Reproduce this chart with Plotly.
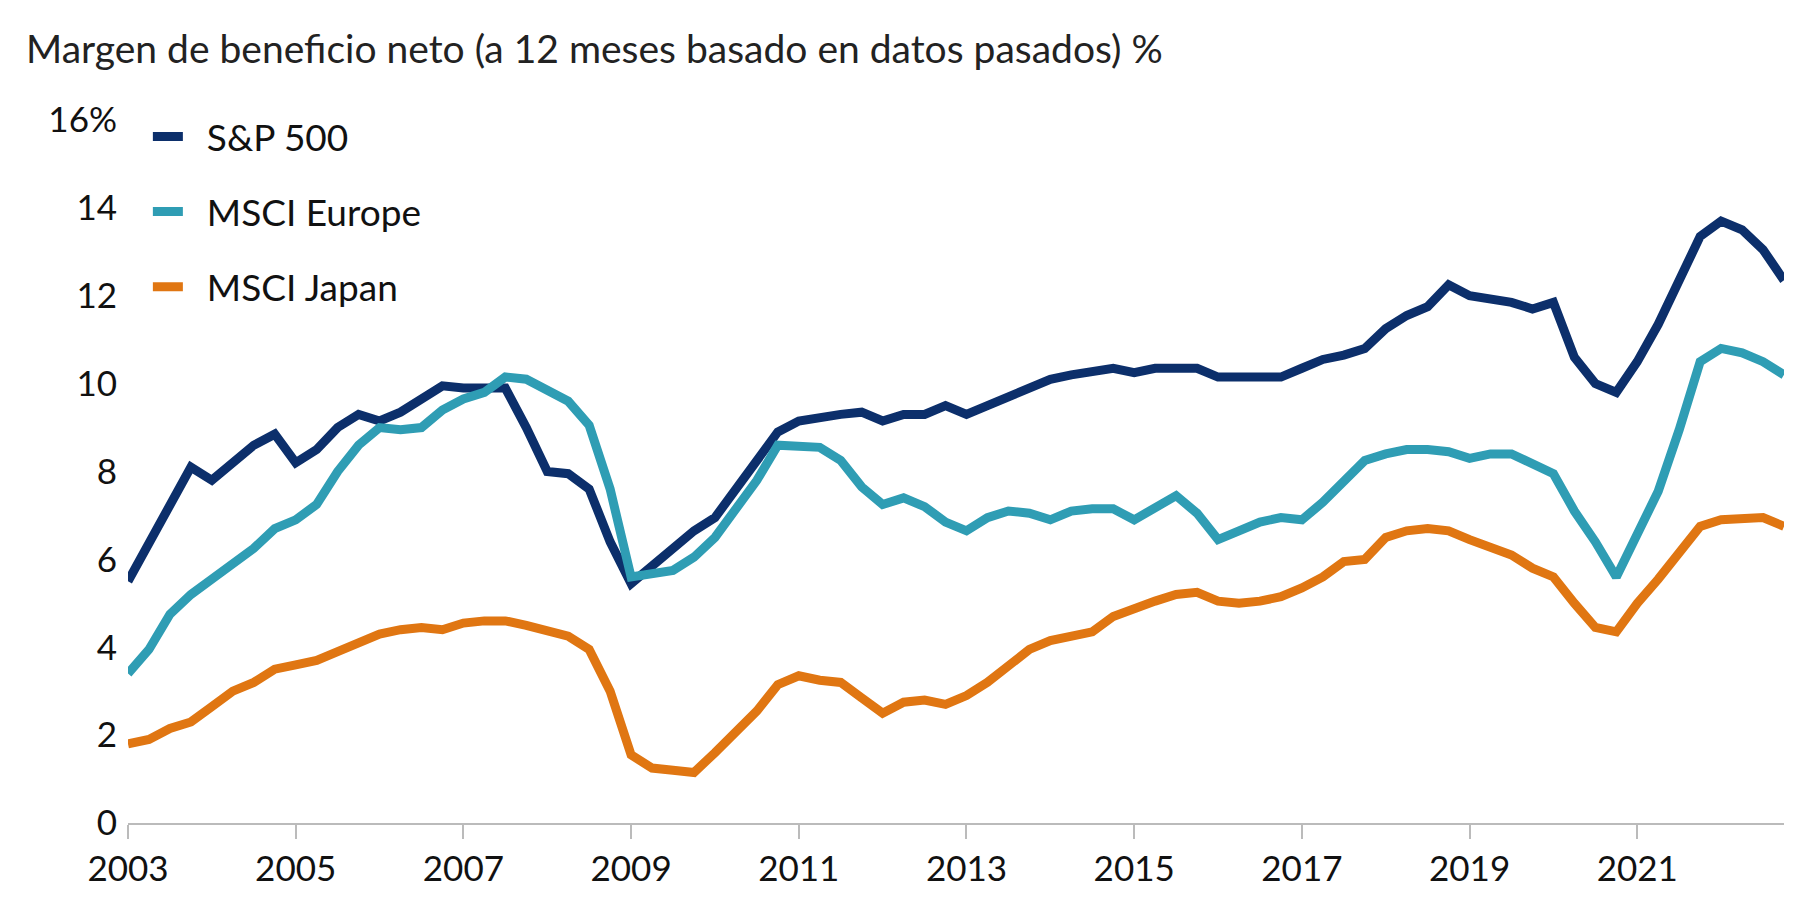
import plotly.graph_objects as go

years = [2003 + i * 0.25 for i in range(80)]
sp500 = [5.5,6.4,7.3,8.1, 7.8,8.2,8.6,8.85, 8.2,8.5,9.0,9.3, 9.15,9.35,9.65,9.95,
         9.9,9.9,9.9,9.0, 8.0,7.95,7.6,6.4, 5.45,5.85,6.25,6.65, 6.95,7.6,8.3,8.9,
         9.15,9.25,9.3,9.35, 9.15,9.3,9.3,9.5, 9.3,9.5,9.7,9.9, 10.1,10.2,10.25,10.35,
         10.25,10.35,10.35,10.35, 10.15,10.15,10.1,10.15, 10.35,10.55,10.65,10.8,
         11.25,11.55,11.75,12.25, 12.0,11.95,11.85,11.7, 11.85,10.6,10.0,9.8,
         10.5,11.35,12.3,13.35, 13.7,13.5,13.05,12.35]
europe = [3.4,3.95,4.75,5.2, 5.55,5.9,6.25,6.7, 6.9,7.25,8.0,8.6, 9.0,8.95,9.0,9.4,
          9.65,9.8,10.15,10.1, 9.85,9.6,9.05,7.6, 5.6,5.65,5.75,6.05, 6.5,7.15,7.8,8.6,
          8.55,8.55,8.25,7.65, 7.25,7.4,7.2,6.85, 6.65,6.95,7.1,7.05, 6.9,7.1,7.15,7.15,
          6.9,7.15,7.45,7.05, 6.45,6.65,6.85,6.95, 6.9,7.3,7.75,8.25, 8.4,8.5,8.5,8.45,
          8.3,8.4,8.4,8.15, 7.95,7.1,6.4,5.6, 6.55,7.55,8.95,10.5, 10.8,10.7,10.5,10.2]
japan = [1.8,1.9,2.15,2.3, 2.65,3.0,3.2,3.5, 3.6,3.7,3.9,4.1, 4.3,4.4,4.45,4.4,
         4.55,4.6,4.6,4.5, 4.4,4.25,3.95,3.0, 1.55,1.25,1.2,1.15, 1.6,2.05,2.55,3.15,
         3.35,3.25,3.2,2.85, 2.5,2.75,2.8,2.7, 2.9,3.2,3.55,3.95, 4.15,4.25,4.35,4.7,
         4.9,5.05,5.2,5.25, 5.05,5.0,5.05,5.15, 5.35,5.6,5.95,6.0, 6.5,6.65,6.7,6.65,
         6.45,6.25,6.1,5.8, 5.6,5.0,4.45,4.35, 5.0,5.55,6.15,6.75, 6.9,6.95,6.95,6.75]

x_ticks = [2003, 2005, 2007, 2009, 2011, 2013, 2015, 2017, 2019, 2021]
y_ticks = [0, 2, 4, 6, 8, 10, 12, 14, 16]
y_labels = ["0", "2", "4", "6", "8", "10", "12", "14", "16%"]

fig = go.Figure()
for name, vals, col in [("S&P 500", sp500, "#0c2f6b"),
                        ("MSCI Europe", europe, "#2f9db4"),
                        ("MSCI Japan", japan, "#e07612")]:
    fig.add_trace(go.Scatter(x=years, y=vals, name="  " + name, mode="lines",
                             legendgroup=name, line=dict(color=col, width=9)))

fig.update_layout(
    width=1800, height=915, plot_bgcolor="white", paper_bgcolor="white",
    font=dict(family="Lato", size=35, color="#111"),
    margin=dict(l=120, r=24, t=112, b=100),
    title=dict(text="Margen de beneficio neto (a 12 meses basado en datos pasados) %",
               x=0.01, xanchor="left", y=0.955, yanchor="middle",
               font=dict(size=39, color="#222")),
    legend=dict(x=0.012, y=1.02, xanchor="left", yanchor="top", bgcolor="rgba(0,0,0,0)",
                font=dict(size=37), tracegroupgap=24),
    showlegend=True,
)
fig.update_xaxes(range=[2003, 2022.75], tickvals=x_ticks, showgrid=False,
                 showline=True, linecolor="#bbb", linewidth=2, ticks="outside",
                 tickcolor="#bbb", ticklen=14, tickwidth=2)
fig.update_yaxes(range=[0, 16], tickvals=y_ticks, ticktext=y_labels, showgrid=False,
                 zeroline=False, showline=False, ticks="", ticklabelstandoff=10)
fig.write_html("out.html")
